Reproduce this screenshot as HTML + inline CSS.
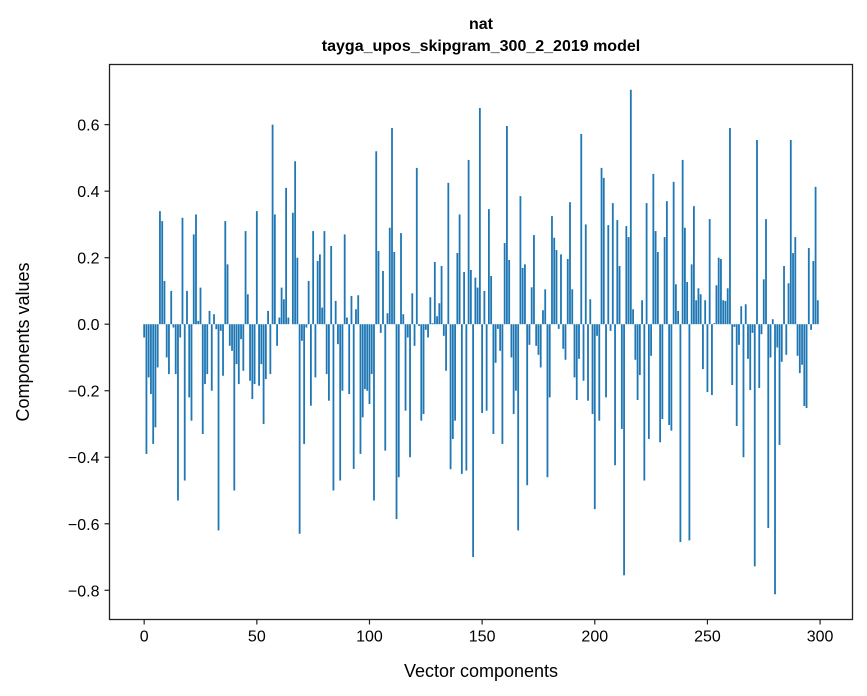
<!DOCTYPE html>
<html><head><meta charset="utf-8">
<style>
html,body{margin:0;padding:0;background:#fff;}
svg{display:block;font-family:"Liberation Sans","DejaVu Sans",sans-serif;}
</style></head>
<body>
<svg id="chart" width="867" height="696" viewBox="0 0 867 696" xmlns="http://www.w3.org/2000/svg">
<rect width="867" height="696" fill="#fff"/>
<text x="481" y="29" text-anchor="middle" font-size="16" font-weight="bold">nat</text>
<text x="481" y="51" text-anchor="middle" font-size="16" font-weight="bold">tayga_upos_skipgram_300_2_2019 model</text>
<g id="bars"></g>
<g id="xticks"></g>
<g id="yticks"></g>
<rect x="109.5" y="64.5" width="743" height="555" fill="none" stroke="#222" stroke-width="1.3"/>
<text x="481" y="677" text-anchor="middle" font-size="18">Vector components</text>
<text transform="translate(29,342) rotate(-90)" text-anchor="middle" font-size="18">Components values</text>
</svg>
<script>
const componentValues = [
-0.04,-0.39,-0.16,-0.21,-0.36,-0.31,-0.13,0.34,0.31,0.13,
-0.10,-0.15,0.10,-0.01,-0.15,-0.53,-0.04,0.32,-0.47,0.10,
-0.22,-0.29,0.27,0.33,0.01,0.11,-0.33,-0.18,-0.15,0.04,
-0.20,0.03,-0.015,-0.62,-0.02,-0.155,0.31,0.18,-0.065,-0.08,
-0.50,-0.12,-0.18,-0.045,-0.14,0.28,0.09,-0.17,-0.225,-0.18,
0.34,-0.185,-0.12,-0.30,-0.165,0.04,-0.15,0.60,0.33,-0.065,
0.02,0.11,0.075,0.41,0.02,0.0,0.335,0.49,0.2,-0.63,
-0.05,-0.36,-0.01,0.13,-0.245,0.28,-0.16,0.19,0.21,0.05,
0.28,-0.15,-0.23,0.235,-0.5,0.07,-0.06,-0.47,-0.2,0.27,
0.02,-0.21,0.085,-0.435,0.045,0.087,-0.39,-0.28,-0.195,-0.2,
-0.24,-0.15,-0.53,0.52,0.22,-0.026,0.16,-0.38,0.033,0.29,
0.59,0.217,-0.586,-0.46,0.274,0.03,-0.26,-0.04,-0.40,0.093,
-0.065,0.47,-0.005,-0.29,-0.27,-0.017,-0.04,0.081,0.003,0.187,
0.024,0.063,0.175,-0.035,-0.14,0.425,-0.436,-0.345,-0.29,0.214,
0.33,-0.45,0.157,-0.44,0.494,0.163,-0.70,0.14,0.11,0.65,
-0.267,0.1,-0.26,0.346,0.145,-0.33,-0.116,-0.014,-0.08,-0.36,
0.244,0.596,0.193,-0.1,-0.27,-0.2,-0.62,0.385,0.169,0.18,
-0.484,-0.062,0.111,0.268,-0.065,-0.092,-0.13,0.042,0.105,-0.46,
-0.22,0.325,0.26,0.223,-0.014,0.21,-0.074,-0.107,0.196,0.367,
0.105,-0.16,-0.228,-0.104,0.572,-0.17,0.3,-0.23,0.075,-0.27,
-0.556,-0.035,-0.29,0.47,0.44,-0.22,0.298,-0.02,0.364,-0.424,
0.313,0.175,-0.315,-0.755,0.295,0.262,0.705,0.045,-0.107,-0.228,
-0.153,0.072,-0.47,0.364,-0.345,-0.095,0.452,0.28,0.217,-0.355,
-0.285,0.262,0.37,-0.303,-0.32,0.428,0.12,0.04,-0.655,0.494,
0.29,0.127,-0.65,0.18,0.355,0.072,0.108,0.09,-0.135,0.072,
-0.204,0.316,-0.213,0.003,0.117,0.2,0.196,0.072,0.07,0.108,
0.59,-0.183,-0.008,-0.306,-0.062,0.054,-0.4,0.06,-0.104,-0.198,
-0.026,-0.728,0.554,-0.192,-0.03,0.135,0.316,-0.613,-0.1,0.015,
-0.812,-0.07,-0.363,-0.113,0.175,-0.092,0.123,0.554,0.214,0.262,
-0.095,-0.147,-0.122,-0.246,-0.252,0.229,-0.017,0.19,0.413,0.072
];
const xTickValues = [0,50,100,150,200,250,300];
const xTickLabels = ["0","50","100","150","200","250","300"];
const yTickValues = [-0.8,-0.6,-0.4,-0.2,0.0,0.2,0.4,0.6];
const yTickLabels = ["\u22120.8","\u22120.6","\u22120.4","\u22120.2","0.0","0.2","0.4","0.6"];

const NS = "http://www.w3.org/2000/svg";
const L = 109.5, R = 852.5, T = 64.5, B = 619.5;
const n = componentValues.length;
const barW = 0.8;
const xd0 = -barW/2, xd1 = n - 1 + barW/2;
const xm = (xd1 - xd0) * 0.05;
const xmin = xd0 - xm, xmax = xd1 + xm;
let ymn = Math.min(0, ...componentValues), ymx = Math.max(0, ...componentValues);
const ym = (ymx - ymn) * 0.05;
const ymin = ymn - ym, ymax = ymx + ym;
function xScale(v){ return L + (v - xmin) / (xmax - xmin) * (R - L); }
function yScale(v){ return B - (v - ymin) / (ymax - ymin) * (B - T); }

const barsG = document.getElementById('bars');
componentValues.forEach((v, i) => {
  const r = document.createElementNS(NS, 'rect');
  const x0 = xScale(i - barW/2), x1 = xScale(i + barW/2);
  const y0 = yScale(Math.max(0, v)), y1 = yScale(Math.min(0, v));
  r.setAttribute('x', x0);
  r.setAttribute('width', x1 - x0);
  r.setAttribute('y', y0);
  r.setAttribute('height', Math.max(0.01, y1 - y0));
  r.setAttribute('fill', '#1f77b4');
  
  
  barsG.appendChild(r);
});

const xg = document.getElementById('xticks');
xTickValues.forEach((v, i) => {
  const x = xScale(v);
  const t = document.createElementNS(NS, 'line');
  t.setAttribute('x1', x); t.setAttribute('x2', x);
  t.setAttribute('y1', B); t.setAttribute('y2', B + 5);
  t.setAttribute('stroke', '#222'); t.setAttribute('stroke-width', '1.2');
  
  
  xg.appendChild(t);
  const lb = document.createElementNS(NS, 'text');
  lb.setAttribute('x', x); lb.setAttribute('y', B + 22);
  lb.setAttribute('text-anchor', 'middle'); lb.setAttribute('font-size', '16');
  lb.textContent = xTickLabels[i];
  
  
  xg.appendChild(lb);
});

const yg = document.getElementById('yticks');
yTickValues.forEach((v, i) => {
  const y = yScale(v);
  const t = document.createElementNS(NS, 'line');
  t.setAttribute('x1', L - 5); t.setAttribute('x2', L);
  t.setAttribute('y1', y); t.setAttribute('y2', y);
  t.setAttribute('stroke', '#222'); t.setAttribute('stroke-width', '1.2');
  
  
  yg.appendChild(t);
  const lb = document.createElementNS(NS, 'text');
  lb.setAttribute('x', L - 10); lb.setAttribute('y', y + 6);
  lb.setAttribute('text-anchor', 'end'); lb.setAttribute('font-size', '16');
  lb.textContent = yTickLabels[i];
  
  
  yg.appendChild(lb);
});
</script>
</body></html>
